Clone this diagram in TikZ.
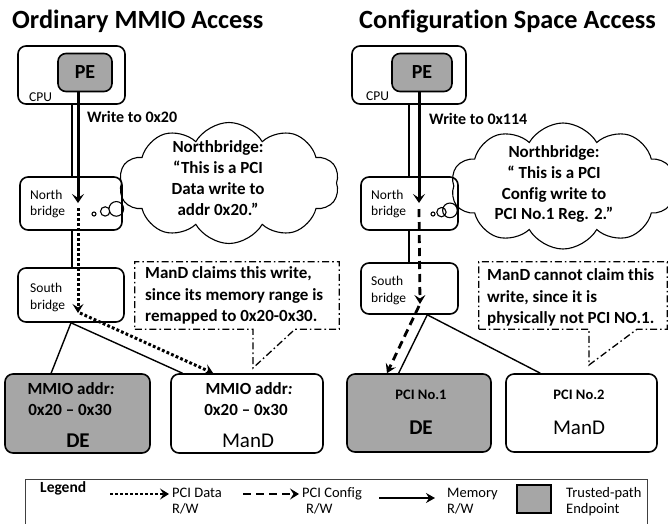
\documentclass[tikz,border=0pt]{standalone}
\usepackage{fontspec}
\setmainfont[Ligatures=NoCommon]{Carlito}
\usetikzlibrary{shapes.symbols,shapes.callouts,arrows.meta,calc}
\definecolor{peGray}{HTML}{A6A6A6}
\newcommand\setfs[1]{\fontsize{#1}{#1}\selectfont}
\begin{document}
\begin{tikzpicture}[x=1pt,y=-1pt,
  box/.style={draw, line width=1.6pt, rounded corners=8pt, fill=white, inner sep=0pt},
  gbox/.style={box, fill=peGray},
  txt/.style={inner sep=0pt, anchor=base},
  ltxt/.style={inner sep=0pt, anchor=base west},
  small/.style={font=\setfs{13.5}},
  bodyb/.style={font=\bfseries\setfs{17}},
  mem/.style={line width=1.4pt},
  memarr/.style={line width=2.2pt, -{Stealth[length=9pt,width=10pt,inset=3pt]}},
  warrow/.style={line width=3pt, -{Stealth[length=9pt,width=12pt,inset=4pt]}},
  dotarr/.style={line width=3pt, dash pattern=on 2.8pt off 2.2pt, -{Stealth[length=9pt,width=11pt,inset=3.5pt]}},
  dasharr/.style={line width=2.8pt, dash pattern=on 8pt off 5pt, -{Stealth[length=9pt,width=11pt,inset=3.5pt]}},
  dd/.style={line width=1.3pt, dash pattern=on 7pt off 3pt on 1.6pt off 3pt},
  thought/.style={cloud callout, draw, line width=1.1pt, cloud puffs=10, cloud puff arc=120,
     cloud ignores aspect, inner sep=0pt, callout pointer segments=3,
     callout pointer start size=20pt, callout pointer end size=4pt}
]
\useasboundingbox (0,0) rectangle (668,523);

% ---------------- titles
\node[ltxt, font=\bfseries\setfs{26.3}] (t1) at (12,28) {Ordinary MMIO Access};
\node[ltxt, font=\bfseries\setfs{26.3}] (t2) at (359,28) {Configuration Space Access};

% ================= LEFT PANEL
\node[box, minimum width=107, minimum height=58] (cpuL) at (71.5,75) {};
\node[gbox, minimum width=54, minimum height=38, font=\bfseries\setfs{20}] (peL) at (85,72.5) {PE};
\node[ltxt, small] (cpuLt) at (29,101) {CPU};

\node[box, minimum width=102, minimum height=53] (nbL) at (71,203.5) {};
\node[ltxt, small] (nbLt1) at (30,199.5) {North};
\node[ltxt, small] (nbLt2) at (30,215) {bridge};

\node[box, minimum width=106, minimum height=54] (sbL) at (71,295) {};
\node[ltxt, small] (sbLt1) at (30,292) {South};
\node[ltxt, small] (sbLt2) at (30,309) {bridge};

\node[gbox, minimum width=145, minimum height=79] (deL) at (77.5,413.5) {};
\node[txt, font=\bfseries\setfs{17}] (deLa) at (71,394) {MMIO addr\textit{:}};
\node[txt, font=\bfseries\setfs{17}] (deLb) at (70,415) {0x20 -- 0x30};
\node[txt, font=\bfseries\setfs{21}] (deLc) at (78,447) {DE};

\node[box, minimum width=152, minimum height=79] (mandL) at (247,413.5) {};
\node[txt, font=\bfseries\setfs{17}] (mandLa) at (249,394) {MMIO addr\textit{:}};
\node[txt, font=\bfseries\setfs{17}] (mandLb) at (246,415) {0x20 -- 0x30};
\node[txt, font=\setfs{21}] (mandLc) at (248,447) {ManD};

% memory path
\coordinate (mL) at (72,0);
\draw[mem] (cpuL.south -| mL) -- (nbL.north -| mL);
\draw[mem] (nbL.south -| mL) -- (sbL.north -| mL);
\draw[mem] (sbL.south) -- ($(deL.north west)!0.32!(deL.north east)$);
\draw[mem] (sbL.south) -- ($(mandL.north west)!0.08!(mandL.north east)$);

% write arrow
\coordinate (wL) at (78,203);
\draw[warrow] (wL |- peL.south) -- (wL);
\node[ltxt, font=\bfseries\setfs{16}] (wtL) at (87,122) {Write to 0x20};

% PCI data path
\coordinate (dL) at (78,313);
\draw[dotarr] ($(wL)+(0,5)$) -- (dL);
\draw[dotarr] ($(dL)+(2,0)$) -- ($(mandL.north west)!0.28!(mandL.north east)$);

% thought cloud
\coordinate (bubL) at (94,214);
\node[thought, minimum width=220, minimum height=121, callout absolute pointer={(bubL)}] (cloudL) at (229,183) {};
\node[txt, bodyb] (cL1) at (218,152) {Northbridge:};
\node[txt, bodyb] (cL2) at (218,173) {“This is a PCI};
\node[txt, bodyb] (cL3) at (218,194) {Data write to};
\node[txt, bodyb] (cL4) at (218,215) {addr 0x20.”};

% note
\node[minimum width=204, minimum height=67, inner sep=0pt] (noteL) at (237,295.5) {};
\coordinate (tipL) at (253,368);
\draw[dd] (noteL.south west) -- (noteL.south -| tipL) -- (tipL) -- ($(noteL.south -| tipL)+(42,0)$)
   -- (noteL.south east) -- (noteL.north east) -- (noteL.north west) -- cycle;
\node[ltxt, bodyb] (nL1) at (145,278) {ManD claims this write,};
\node[ltxt, bodyb] (nL2) at (145,300) {since its memory range is};
\node[ltxt, bodyb] (nL3) at (145,321) {remapped to 0x20-0x30.};

% ================= RIGHT PANEL
\node[box, minimum width=114, minimum height=58] (cpuR) at (409,75) {};
\node[gbox, minimum width=60, minimum height=38, font=\bfseries\setfs{20}] (peR) at (422,72.5) {PE};
\node[ltxt, small] (cpuRt) at (366,100.5) {CPU};

\node[box, minimum width=97, minimum height=53] (nbR) at (409.5,203.5) {};
\node[ltxt, small] (nbRt1) at (371,199.5) {North};
\node[ltxt, small] (nbRt2) at (371,215) {bridge};

\node[box, minimum width=97, minimum height=51] (sbR) at (409.5,288.5) {};
\node[ltxt, small] (sbRt1) at (371,285) {South};
\node[ltxt, small] (sbRt2) at (371,302) {bridge};

\node[gbox, minimum width=144, minimum height=78] (deR) at (419,413) {};
\node[txt, font=\bfseries\setfs{14.5}] (deRa) at (421,399) {PCI No.1};
\node[txt, font=\bfseries\setfs{21}] (deRb) at (421,434) {DE};

\node[box, minimum width=151, minimum height=78] (mandR) at (581.5,413) {};
\node[txt, font=\bfseries\setfs{14.5}] (mandRa) at (579,399) {PCI No.2};
\node[txt, font=\setfs{21}] (mandRb) at (579,434) {ManD};

\coordinate (mR) at (409,0);
\draw[mem] (cpuR.south -| mR) -- (nbR.north -| mR);
\draw[mem] (nbR.south -| mR) -- (sbR.north -| mR);
\coordinate (sR) at ($(sbR.south west)!0.68!(sbR.south east)$);
\draw[mem] (sR) -- ($(deR.north west)!0.36!(deR.north east)$);
\draw[mem] (sR) -- ($(mandR.north west)!0.23!(mandR.north east)$);

\coordinate (wR) at (419,203);
\draw[warrow] (wR |- peR.south) -- (wR);
\node[ltxt, font=\bfseries\setfs{16}] (wtR) at (429,124) {Write to 0x114};

\coordinate (dR) at (420,304);
\draw[dasharr] ($(wR)+(0,6)$) -- (dR);
\draw[dasharr] ($(dR)+(-1,2)$) -- ($(deR.north west)!0.28!(deR.north east)$);

\coordinate (bubR) at (433,214);
\node[thought, minimum width=224, minimum height=126, callout absolute pointer={(bubR)}] (cloudR) at (563,186) {};
\node[txt, bodyb] (cR1) at (554,157) {Northbridge:};
\node[txt, bodyb] (cR2) at (554,178) {“ This is a PCI};
\node[txt, bodyb] (cR3) at (554,199) {Config write to};
\node[txt, bodyb] (cR4) at (554,219) {PCI No.1 Reg. 2.”};

\node[minimum width=188, minimum height=67, inner sep=0pt] (noteR) at (573,295.5) {};
\coordinate (tipR) at (589,365);
\draw[dd] (noteR.south west) -- (noteR.south -| tipR) -- (tipR) -- ($(noteR.south -| tipR)+(48,0)$)
   -- (noteR.south east) -- (noteR.north east) -- (noteR.north west) -- cycle;
\node[ltxt, bodyb] (nR1) at (487,280) {ManD cannot claim this};
\node[ltxt, bodyb] (nR2) at (487,302) {write, since it is};
\node[ltxt, bodyb] (nR3) at (487,323) {physically not PCI NO.1.};

% ================= LEGEND
\node[draw=black!75, line width=0.8pt, minimum width=622, minimum height=60, inner sep=0pt] (legend) at (336,509) {};
\node[ltxt, font=\bfseries\setfs{15.5}] (lg) at (40,492) {Legend};
\coordinate (l1a) at (110,494); \coordinate (l1b) at (169,494);
\draw[dotarr, line width=2.6pt] (l1a) -- (l1b);
\node[ltxt, font=\setfs{14.5}] (l1t1) at (172,497) {PCI Data};
\node[ltxt, font=\setfs{14.5}] (l1t2) at (172,513) {R/W};
\coordinate (l2a) at (243,494); \coordinate (l2b) at (299,494);
\draw[dasharr, line width=2.6pt] (l2a) -- (l2b);
\node[ltxt, font=\setfs{14.5}] (l2t1) at (302,497) {PCI Config};
\node[ltxt, font=\setfs{14.5}] (l2t2) at (306,513) {R/W};
\coordinate (l3a) at (379,498); \coordinate (l3b) at (435,498);
\draw[memarr] (l3a) -- (l3b);
\node[ltxt, font=\setfs{14.5}] (l3t1) at (447,497) {Memory};
\node[ltxt, font=\setfs{14.5}] (l3t2) at (447,513) {R/W};
\node[draw, line width=2pt, fill=peGray, minimum width=34, minimum height=28, inner sep=0pt] (lsq) at (534,499) {};
\node[ltxt, font=\setfs{14.5}] (l4t1) at (566,497) {Trusted-path};
\node[ltxt, font=\setfs{14.5}] (l4t2) at (566,513) {Endpoint};
\end{tikzpicture}
\end{document}
